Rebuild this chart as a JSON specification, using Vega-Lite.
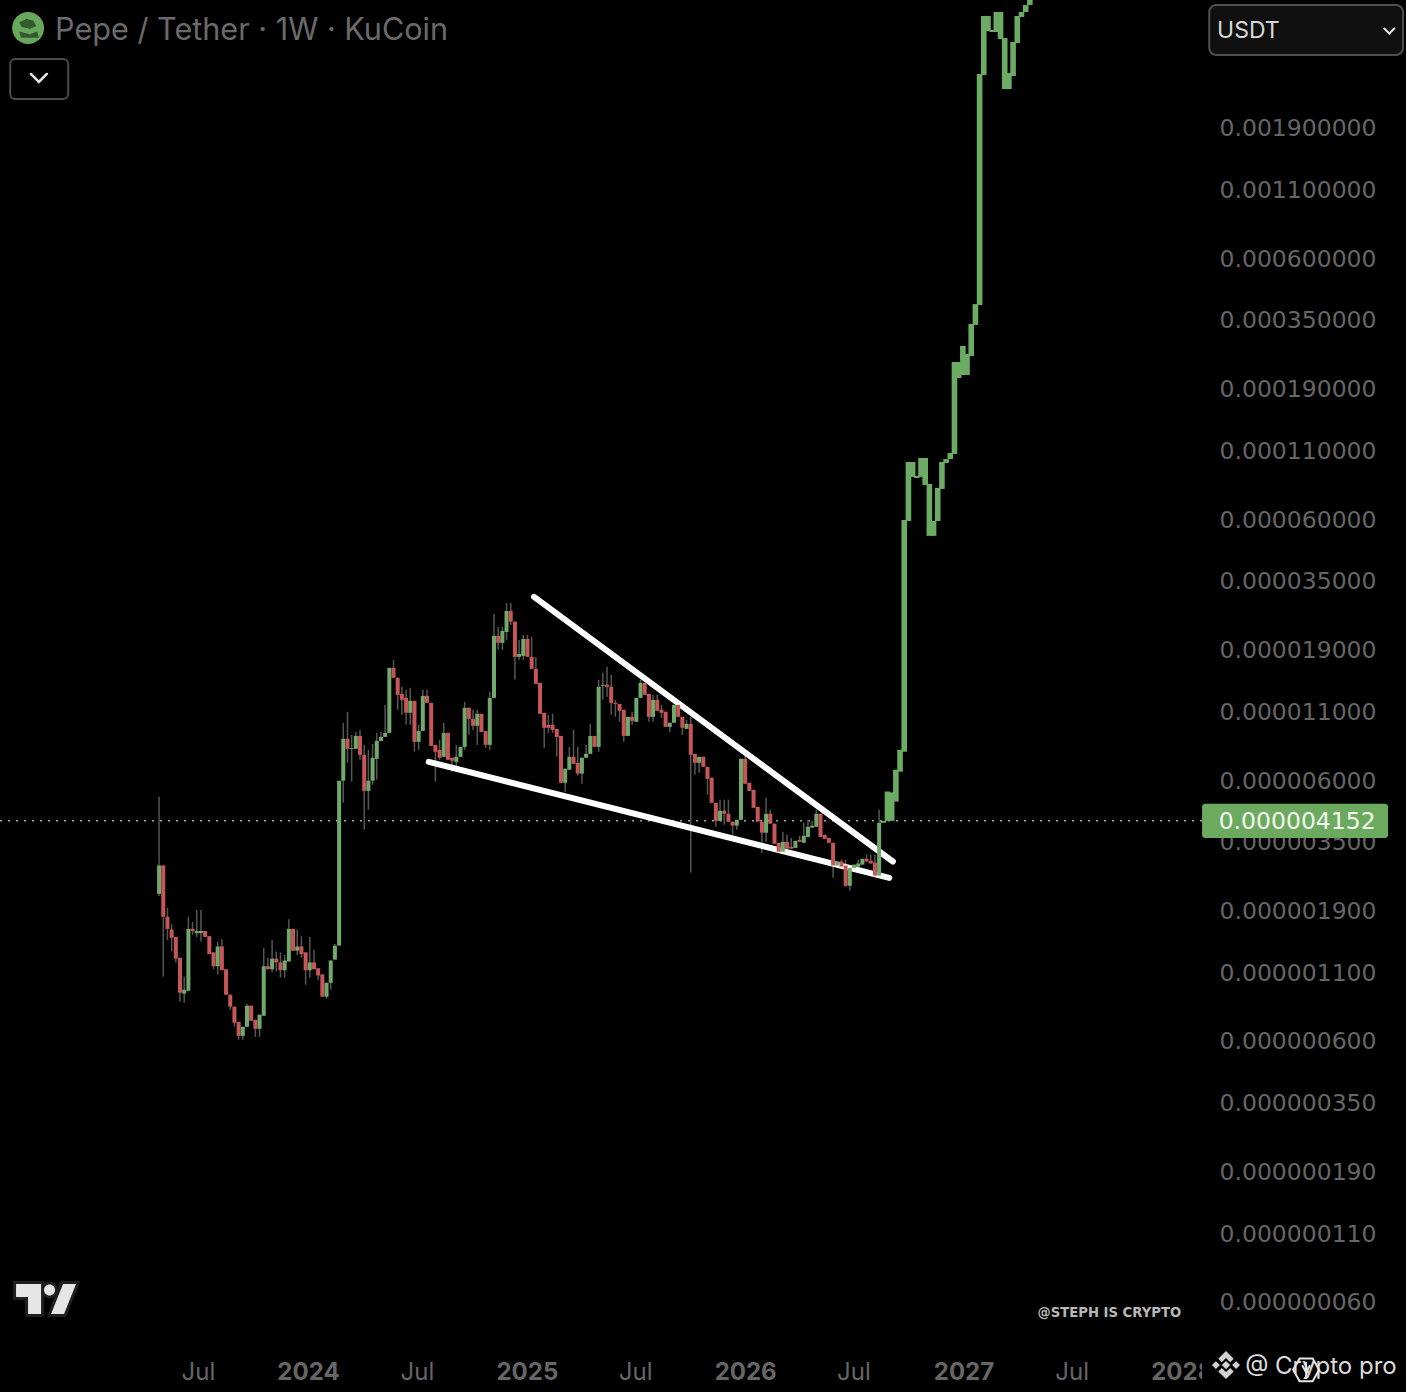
{
  "$schema": "https://vega.github.io/schema/vega-lite/v6.json",
  "width": 1406,
  "height": 1392,
  "padding": 0,
  "autosize": {"type": "none"},
  "background": "#000000",
  "view": {"stroke": null},
  "config": {"font": "Inter"},
  "datasets": {
    "history": [
      {"date":"2023-04-27","open":2.18e-6,"high":5.14e-6,"low":2.14e-6,"price":2.80e-6},
      {"date":"2023-05-04","open":2.80e-6,"high":2.80e-6,"low":1.05e-6,"price":1.78e-6},
      {"date":"2023-05-11","open":1.78e-6,"high":1.93e-6,"low":1.45e-6,"price":1.60e-6},
      {"date":"2023-05-18","open":1.59e-6,"high":1.67e-6,"low":1.31e-6,"price":1.48e-6},
      {"date":"2023-05-25","open":1.49e-6,"high":1.49e-6,"low":1.19e-6,"price":1.23e-6},
      {"date":"2023-06-01","open":1.24e-6,"high":1.24e-6,"low":8.41e-7,"price":9.11e-7},
      {"date":"2023-06-08","open":9.03e-7,"high":1.05e-6,"low":8.34e-7,"price":9.35e-7},
      {"date":"2023-06-15","open":9.27e-7,"high":1.78e-6,"low":9.20e-7,"price":1.60e-6},
      {"date":"2023-06-22","open":1.60e-6,"high":1.70e-6,"low":1.52e-6,"price":1.57e-6},
      {"date":"2023-06-29","open":1.54e-6,"high":1.89e-6,"low":1.49e-6,"price":1.57e-6},
      {"date":"2023-07-06","open":1.54e-6,"high":1.89e-6,"low":1.43e-6,"price":1.57e-6},
      {"date":"2023-07-13","open":1.57e-6,"high":1.57e-6,"low":1.49e-6,"price":1.49e-6},
      {"date":"2023-07-20","open":1.50e-6,"high":1.50e-6,"low":1.28e-6,"price":1.28e-6},
      {"date":"2023-07-27","open":1.30e-6,"high":1.30e-6,"low":1.12e-6,"price":1.15e-6},
      {"date":"2023-08-03","open":1.15e-6,"high":1.43e-6,"low":1.07e-6,"price":1.37e-6},
      {"date":"2023-08-10","open":1.37e-6,"high":1.46e-6,"low":1.11e-6,"price":1.11e-6},
      {"date":"2023-08-17","open":1.12e-6,"high":1.12e-6,"low":8.95e-7,"price":8.95e-7},
      {"date":"2023-08-24","open":8.95e-7,"high":8.95e-7,"low":7.84e-7,"price":8.05e-7},
      {"date":"2023-08-31","open":8.05e-7,"high":8.05e-7,"low":6.74e-7,"price":6.98e-7},
      {"date":"2023-09-07","open":7.04e-7,"high":7.04e-7,"low":6.01e-7,"price":6.22e-7},
      {"date":"2023-09-14","open":6.22e-7,"high":6.74e-7,"low":6.01e-7,"price":6.74e-7},
      {"date":"2023-09-21","open":6.74e-7,"high":8.26e-7,"low":6.74e-7,"price":8.12e-7},
      {"date":"2023-09-28","open":8.12e-7,"high":8.12e-7,"low":7.11e-7,"price":7.11e-7},
      {"date":"2023-10-05","open":7.17e-7,"high":7.17e-7,"low":6.16e-7,"price":6.62e-7},
      {"date":"2023-10-12","open":6.62e-7,"high":7.50e-7,"low":6.16e-7,"price":7.50e-7},
      {"date":"2023-10-19","open":7.43e-7,"high":1.35e-6,"low":7.43e-7,"price":1.15e-6},
      {"date":"2023-10-26","open":1.15e-6,"high":1.24e-6,"low":1.12e-6,"price":1.12e-6},
      {"date":"2023-11-02","open":1.12e-6,"high":1.45e-6,"low":1.09e-6,"price":1.23e-6},
      {"date":"2023-11-09","open":1.23e-6,"high":1.31e-6,"low":1.10e-6,"price":1.19e-6},
      {"date":"2023-11-16","open":1.19e-6,"high":1.30e-6,"low":1.04e-6,"price":1.11e-6},
      {"date":"2023-11-23","open":1.11e-6,"high":1.27e-6,"low":1.04e-6,"price":1.21e-6},
      {"date":"2023-11-30","open":1.20e-6,"high":1.74e-6,"low":1.20e-6,"price":1.60e-6},
      {"date":"2023-12-07","open":1.60e-6,"high":1.60e-6,"low":1.32e-6,"price":1.32e-6},
      {"date":"2023-12-14","open":1.32e-6,"high":1.59e-6,"low":1.27e-6,"price":1.37e-6},
      {"date":"2023-12-21","open":1.37e-6,"high":1.50e-6,"low":1.24e-6,"price":1.28e-6},
      {"date":"2023-12-28","open":1.30e-6,"high":1.30e-6,"low":9.77e-7,"price":1.11e-6},
      {"date":"2024-01-04","open":1.11e-6,"high":1.49e-6,"low":1.04e-6,"price":1.19e-6},
      {"date":"2024-01-11","open":1.19e-6,"high":1.33e-6,"low":1.12e-6,"price":1.12e-6},
      {"date":"2024-01-18","open":1.13e-6,"high":1.13e-6,"low":1.02e-6,"price":1.06e-6},
      {"date":"2024-01-25","open":1.07e-6,"high":1.07e-6,"low":8.79e-7,"price":8.79e-7},
      {"date":"2024-02-01","open":8.79e-7,"high":9.94e-7,"low":8.64e-7,"price":9.94e-7},
      {"date":"2024-02-08","open":9.94e-7,"high":1.21e-6,"low":9.35e-7,"price":1.21e-6},
      {"date":"2024-02-15","open":1.22e-6,"high":1.40e-6,"low":1.22e-6,"price":1.38e-6},
      {"date":"2024-02-22","open":1.38e-6,"high":5.92e-6,"low":1.38e-6,"price":5.92e-6},
      {"date":"2024-02-29","open":5.92e-6,"high":9.87e-6,"low":4.87e-6,"price":8.57e-6},
      {"date":"2024-03-07","open":8.57e-6,"high":1.088e-5,"low":6.93e-6,"price":7.84e-6},
      {"date":"2024-03-14","open":7.84e-6,"high":8.87e-6,"low":5.87e-6,"price":7.90e-6},
      {"date":"2024-03-21","open":7.84e-6,"high":9.10e-6,"low":7.84e-6,"price":8.79e-6},
      {"date":"2024-03-28","open":8.79e-6,"high":9.27e-6,"low":7.12e-6,"price":7.44e-6},
      {"date":"2024-04-04","open":7.44e-6,"high":8.12e-6,"low":3.84e-6,"price":5.41e-6},
      {"date":"2024-04-11","open":5.41e-6,"high":7.77e-6,"low":4.58e-6,"price":5.92e-6},
      {"date":"2024-04-18","open":5.92e-6,"high":8.19e-6,"low":5.71e-6,"price":7.25e-6},
      {"date":"2024-04-25","open":7.18e-6,"high":9.03e-6,"low":5.97e-6,"price":8.41e-6},
      {"date":"2024-05-02","open":8.41e-6,"high":9.10e-6,"low":8.41e-6,"price":8.71e-6},
      {"date":"2024-05-09","open":8.71e-6,"high":1.156e-5,"low":8.71e-6,"price":9.03e-6},
      {"date":"2024-05-16","open":9.03e-6,"high":1.603e-5,"low":9.03e-6,"price":1.603e-5},
      {"date":"2024-05-23","open":1.603e-5,"high":1.720e-5,"low":1.468e-5,"price":1.468e-5},
      {"date":"2024-05-30","open":1.468e-5,"high":1.468e-5,"low":1.107e-5,"price":1.263e-5},
      {"date":"2024-06-06","open":1.274e-5,"high":1.356e-5,"low":1.059e-5,"price":1.209e-5},
      {"date":"2024-06-13","open":1.230e-5,"high":1.320e-5,"low":9.69e-6,"price":1.078e-5},
      {"date":"2024-06-20","open":1.078e-5,"high":1.344e-5,"low":9.69e-6,"price":1.198e-5},
      {"date":"2024-06-27","open":1.198e-5,"high":1.198e-5,"low":7.64e-6,"price":8.34e-6},
      {"date":"2024-07-04","open":8.34e-6,"high":9.69e-6,"low":7.77e-6,"price":9.18e-6},
      {"date":"2024-07-11","open":9.18e-6,"high":1.320e-5,"low":9.18e-6,"price":1.252e-5},
      {"date":"2024-07-18","open":1.252e-5,"high":1.320e-5,"low":1.177e-5,"price":1.177e-5},
      {"date":"2024-07-25","open":1.177e-5,"high":1.177e-5,"low":8.05e-6,"price":8.05e-6},
      {"date":"2024-08-01","open":8.12e-6,"high":8.12e-6,"low":5.87e-6,"price":7.64e-6},
      {"date":"2024-08-08","open":7.77e-6,"high":8.49e-6,"low":7.12e-6,"price":7.25e-6},
      {"date":"2024-08-15","open":7.31e-6,"high":9.87e-6,"low":7.31e-6,"price":9.03e-6},
      {"date":"2024-08-22","open":9.03e-6,"high":9.03e-6,"low":7.12e-6,"price":7.12e-6},
      {"date":"2024-08-29","open":7.25e-6,"high":7.25e-6,"low":6.40e-6,"price":7.06e-6},
      {"date":"2024-09-05","open":6.99e-6,"high":8.12e-6,"low":6.52e-6,"price":7.31e-6},
      {"date":"2024-09-12","open":7.31e-6,"high":7.98e-6,"low":7.31e-6,"price":7.98e-6},
      {"date":"2024-09-19","open":7.98e-6,"high":1.187e-5,"low":7.77e-6,"price":1.127e-5},
      {"date":"2024-09-26","open":1.127e-5,"high":1.127e-5,"low":8.87e-6,"price":1.022e-5},
      {"date":"2024-10-03","open":1.022e-5,"high":1.107e-5,"low":9.27e-6,"price":9.61e-6},
      {"date":"2024-10-10","open":9.61e-6,"high":1.107e-5,"low":8.12e-6,"price":1.069e-5},
      {"date":"2024-10-17","open":1.069e-5,"high":1.069e-5,"low":9.10e-6,"price":9.10e-6},
      {"date":"2024-10-24","open":9.18e-6,"high":9.18e-6,"low":7.91e-6,"price":8.12e-6},
      {"date":"2024-10-31","open":8.12e-6,"high":1.298e-5,"low":7.77e-6,"price":1.230e-5},
      {"date":"2024-11-07","open":1.230e-5,"high":2.58e-5,"low":1.230e-5,"price":2.126e-5},
      {"date":"2024-11-14","open":2.126e-5,"high":2.30e-5,"low":1.879e-5,"price":1.999e-5},
      {"date":"2024-11-21","open":1.999e-5,"high":2.30e-5,"low":1.879e-5,"price":2.22e-5},
      {"date":"2024-11-28","open":2.20e-5,"high":2.84e-5,"low":2.052e-5,"price":2.65e-5},
      {"date":"2024-12-05","open":2.65e-5,"high":2.84e-5,"low":2.343e-5,"price":2.41e-5},
      {"date":"2024-12-12","open":2.41e-5,"high":2.41e-5,"low":1.442e-5,"price":1.766e-5},
      {"date":"2024-12-19","open":1.766e-5,"high":2.052e-5,"low":1.720e-5,"price":1.814e-5},
      {"date":"2024-12-26","open":1.782e-5,"high":2.145e-5,"low":1.720e-5,"price":2.07e-5},
      {"date":"2025-01-02","open":2.07e-5,"high":2.145e-5,"low":1.766e-5,"price":1.766e-5},
      {"date":"2025-01-09","open":1.766e-5,"high":2.107e-5,"low":1.589e-5,"price":1.589e-5},
      {"date":"2025-01-16","open":1.589e-5,"high":1.766e-5,"low":1.392e-5,"price":1.392e-5},
      {"date":"2025-01-23","open":1.404e-5,"high":1.404e-5,"low":1.069e-5,"price":1.069e-5},
      {"date":"2025-01-30","open":1.078e-5,"high":1.078e-5,"low":7.91e-6,"price":9.44e-6},
      {"date":"2025-02-06","open":9.69e-6,"high":1.059e-5,"low":9.03e-6,"price":9.44e-6},
      {"date":"2025-02-13","open":9.69e-6,"high":1.069e-5,"low":9.03e-6,"price":9.27e-6},
      {"date":"2025-02-20","open":9.35e-6,"high":9.35e-6,"low":7.31e-6,"price":8.71e-6},
      {"date":"2025-02-27","open":8.79e-6,"high":8.79e-6,"low":5.81e-6,"price":5.81e-6},
      {"date":"2025-03-06","open":5.81e-6,"high":6.58e-6,"low":5.37e-6,"price":6.58e-6},
      {"date":"2025-03-13","open":6.52e-6,"high":7.98e-6,"low":6.52e-6,"price":7.31e-6},
      {"date":"2025-03-20","open":7.31e-6,"high":9.27e-6,"low":6.87e-6,"price":6.87e-6},
      {"date":"2025-03-27","open":6.93e-6,"high":7.98e-6,"low":6.19e-6,"price":6.30e-6},
      {"date":"2025-04-03","open":6.30e-6,"high":7.25e-6,"low":5.76e-6,"price":7.25e-6},
      {"date":"2025-04-10","open":7.25e-6,"high":8.12e-6,"low":7.25e-6,"price":7.50e-6},
      {"date":"2025-04-17","open":7.50e-6,"high":9.78e-6,"low":7.50e-6,"price":8.79e-6},
      {"date":"2025-04-24","open":8.79e-6,"high":8.79e-6,"low":7.98e-6,"price":7.98e-6},
      {"date":"2025-05-01","open":7.98e-6,"high":1.442e-5,"low":7.64e-6,"price":1.356e-5},
      {"date":"2025-05-08","open":1.368e-5,"high":1.534e-5,"low":1.209e-5,"price":1.380e-5},
      {"date":"2025-05-15","open":1.380e-5,"high":1.617e-5,"low":1.241e-5,"price":1.356e-5},
      {"date":"2025-05-22","open":1.356e-5,"high":1.507e-5,"low":1.059e-5,"price":1.177e-5},
      {"date":"2025-05-29","open":1.177e-5,"high":1.209e-5,"low":1.040e-5,"price":1.166e-5},
      {"date":"2025-06-05","open":1.166e-5,"high":1.166e-5,"low":9.95e-6,"price":1.097e-5},
      {"date":"2025-06-12","open":1.107e-5,"high":1.107e-5,"low":8.34e-6,"price":8.79e-6},
      {"date":"2025-06-19","open":8.79e-6,"high":1.040e-5,"low":8.79e-6,"price":1.040e-5},
      {"date":"2025-06-26","open":1.040e-5,"high":1.088e-5,"low":9.69e-6,"price":1.004e-5},
      {"date":"2025-07-03","open":9.95e-6,"high":1.230e-5,"low":9.95e-6,"price":1.230e-5},
      {"date":"2025-07-10","open":1.230e-5,"high":1.442e-5,"low":1.230e-5,"price":1.404e-5},
      {"date":"2025-07-17","open":1.404e-5,"high":1.404e-5,"low":1.263e-5,"price":1.263e-5},
      {"date":"2025-07-24","open":1.274e-5,"high":1.274e-5,"low":9.95e-6,"price":1.040e-5},
      {"date":"2025-07-31","open":1.040e-5,"high":1.263e-5,"low":9.95e-6,"price":1.209e-5},
      {"date":"2025-08-07","open":1.209e-5,"high":1.263e-5,"low":1.097e-5,"price":1.097e-5},
      {"date":"2025-08-14","open":1.107e-5,"high":1.156e-5,"low":1.031e-5,"price":1.078e-5},
      {"date":"2025-08-21","open":1.088e-5,"high":1.088e-5,"low":9.52e-6,"price":9.52e-6},
      {"date":"2025-08-28","open":9.52e-6,"high":9.87e-6,"low":9.10e-6,"price":9.87e-6},
      {"date":"2025-09-04","open":9.87e-6,"high":1.156e-5,"low":9.87e-6,"price":1.156e-5},
      {"date":"2025-09-11","open":1.156e-5,"high":1.156e-5,"low":1.040e-5,"price":1.040e-5},
      {"date":"2025-09-18","open":1.040e-5,"high":1.040e-5,"low":8.87e-6,"price":9.44e-6},
      {"date":"2025-09-25","open":9.35e-6,"high":1.013e-5,"low":9.35e-6,"price":9.78e-6},
      {"date":"2025-10-02","open":9.78e-6,"high":1.040e-5,"low":2.63e-6,"price":7.44e-6},
      {"date":"2025-10-09","open":7.50e-6,"high":7.50e-6,"low":6.24e-6,"price":6.93e-6},
      {"date":"2025-10-16","open":6.93e-6,"high":7.31e-6,"low":6.35e-6,"price":7.31e-6},
      {"date":"2025-10-23","open":7.31e-6,"high":7.31e-6,"low":6.69e-6,"price":6.69e-6},
      {"date":"2025-10-30","open":6.69e-6,"high":6.69e-6,"low":5.23e-6,"price":6.02e-6},
      {"date":"2025-11-06","open":6.08e-6,"high":6.08e-6,"low":4.87e-6,"price":4.87e-6},
      {"date":"2025-11-13","open":4.87e-6,"high":4.87e-6,"low":3.94e-6,"price":4.15e-6},
      {"date":"2025-11-20","open":4.15e-6,"high":5.00e-6,"low":4.15e-6,"price":4.54e-6},
      {"date":"2025-11-27","open":4.54e-6,"high":5.00e-6,"low":4.01e-6,"price":4.42e-6},
      {"date":"2025-12-04","open":4.42e-6,"high":5.00e-6,"low":4.12e-6,"price":4.12e-6},
      {"date":"2025-12-11","open":4.12e-6,"high":4.12e-6,"low":3.67e-6,"price":3.98e-6},
      {"date":"2025-12-18","open":3.98e-6,"high":4.19e-6,"low":3.84e-6,"price":4.19e-6},
      {"date":"2025-12-25","open":4.19e-6,"high":7.18e-6,"low":4.19e-6,"price":7.18e-6},
      {"date":"2026-01-01","open":7.18e-6,"high":7.44e-6,"low":5.76e-6,"price":5.76e-6},
      {"date":"2026-01-08","open":5.81e-6,"high":5.81e-6,"low":5.41e-6,"price":5.41e-6},
      {"date":"2026-01-15","open":5.46e-6,"high":5.46e-6,"low":4.66e-6,"price":4.66e-6},
      {"date":"2026-01-22","open":4.70e-6,"high":4.70e-6,"low":4.12e-6,"price":4.12e-6},
      {"date":"2026-01-29","open":4.12e-6,"high":4.12e-6,"low":3.13e-6,"price":3.74e-6},
      {"date":"2026-02-05","open":3.74e-6,"high":5.09e-6,"low":3.45e-6,"price":4.42e-6},
      {"date":"2026-02-12","open":4.42e-6,"high":4.58e-6,"low":4.05e-6,"price":4.05e-6},
      {"date":"2026-02-19","open":4.05e-6,"high":4.05e-6,"low":3.39e-6,"price":3.39e-6},
      {"date":"2026-02-26","open":3.42e-6,"high":3.42e-6,"low":3.16e-6,"price":3.16e-6},
      {"date":"2026-03-05","open":3.16e-6,"high":3.77e-6,"low":3.16e-6,"price":3.45e-6},
      {"date":"2026-03-12","open":3.45e-6,"high":3.67e-6,"low":3.25e-6,"price":3.25e-6},
      {"date":"2026-03-19","open":3.30e-6,"high":3.57e-6,"low":3.25e-6,"price":3.25e-6},
      {"date":"2026-03-26","open":3.27e-6,"high":3.48e-6,"low":3.27e-6,"price":3.48e-6},
      {"date":"2026-04-02","open":3.51e-6,"high":3.64e-6,"low":3.45e-6,"price":3.45e-6},
      {"date":"2026-04-09","open":3.42e-6,"high":4.08e-6,"low":3.42e-6,"price":3.64e-6},
      {"date":"2026-04-16","open":3.60e-6,"high":4.19e-6,"low":3.60e-6,"price":3.94e-6},
      {"date":"2026-04-23","open":3.91e-6,"high":4.15e-6,"low":3.91e-6,"price":3.98e-6},
      {"date":"2026-04-30","open":3.94e-6,"high":4.58e-6,"low":3.94e-6,"price":4.42e-6},
      {"date":"2026-05-07","open":4.42e-6,"high":4.42e-6,"low":3.60e-6,"price":3.60e-6},
      {"date":"2026-05-14","open":3.67e-6,"high":3.67e-6,"low":3.54e-6,"price":3.54e-6},
      {"date":"2026-05-21","open":3.57e-6,"high":3.57e-6,"low":3.42e-6,"price":3.42e-6},
      {"date":"2026-05-28","open":3.42e-6,"high":3.42e-6,"low":2.51e-6,"price":2.80e-6},
      {"date":"2026-06-04","open":2.80e-6,"high":2.90e-6,"low":2.80e-6,"price":2.90e-6},
      {"date":"2026-06-11","open":2.90e-6,"high":2.95e-6,"low":2.77e-6,"price":2.77e-6},
      {"date":"2026-06-18","open":2.80e-6,"high":2.95e-6,"low":2.32e-6,"price":2.34e-6},
      {"date":"2026-06-25","open":2.34e-6,"high":2.74e-6,"low":2.24e-6,"price":2.74e-6},
      {"date":"2026-07-02","open":2.74e-6,"high":2.82e-6,"low":2.74e-6,"price":2.82e-6},
      {"date":"2026-07-09","open":2.77e-6,"high":2.95e-6,"low":2.77e-6,"price":2.85e-6},
      {"date":"2026-07-16","open":2.82e-6,"high":2.97e-6,"low":2.82e-6,"price":2.97e-6},
      {"date":"2026-07-23","open":2.97e-6,"high":3.08e-6,"low":2.90e-6,"price":2.90e-6},
      {"date":"2026-07-30","open":2.92e-6,"high":3.08e-6,"low":2.85e-6,"price":2.85e-6},
      {"date":"2026-08-06","open":2.87e-6,"high":3.08e-6,"low":2.56e-6,"price":2.56e-6},
      {"date":"2026-08-13","open":2.56e-6,"high":4.58e-6,"low":2.51e-6,"price":4.08e-6}
    ],
    "projection": [
      {"date":"2026-08-20","open":4.08e-6,"price":4.15e-6},
      {"date":"2026-08-27","open":4.15e-6,"price":5.38e-6},
      {"date":"2026-09-03","open":4.15e-6,"price":5.34e-6},
      {"date":"2026-09-10","open":4.92e-6,"price":6.52e-6},
      {"date":"2026-09-17","open":6.41e-6,"price":7.77e-6},
      {"date":"2026-09-24","open":7.64e-6,"price":5.91e-5},
      {"date":"2026-10-01","open":5.86e-5,"price":9.87e-5},
      {"date":"2026-10-08","open":8.65e-5,"price":9.87e-5},
      {"date":"2026-10-15","open":8.57e-5,"price":8.72e-5},
      {"date":"2026-10-22","open":8.65e-5,"price":1.022e-4},
      {"date":"2026-10-29","open":8.06e-5,"price":1.022e-4},
      {"date":"2026-11-05","open":5.14e-5,"price":8.13e-5},
      {"date":"2026-11-12","open":5.14e-5,"price":5.86e-5},
      {"date":"2026-11-19","open":5.86e-5,"price":7.85e-5},
      {"date":"2026-11-26","open":7.78e-5,"price":9.87e-5},
      {"date":"2026-12-03","open":9.78e-5,"price":1.013e-4},
      {"date":"2026-12-10","open":1.013e-4,"price":1.069e-4},
      {"date":"2026-12-17","open":1.059e-4,"price":2.386e-4},
      {"date":"2026-12-24","open":2.072e-4,"price":2.386e-4},
      {"date":"2026-12-31","open":2.127e-4,"price":2.749e-4},
      {"date":"2027-01-07","open":2.127e-4,"price":2.561e-4},
      {"date":"2027-01-14","open":2.516e-4,"price":3.337e-4},
      {"date":"2027-01-21","open":3.308e-4,"price":3.98e-4},
      {"date":"2027-01-28","open":3.948e-4,"price":3.035e-3},
      {"date":"2027-02-04","open":3.008e-3,"price":5.064e-3},
      {"date":"2027-02-11","open":4.435e-3,"price":5.064e-3},
      {"date":"2027-02-18","open":4.396e-3,"price":4.474e-3},
      {"date":"2027-02-25","open":4.396e-3,"price":5.245e-3},
      {"date":"2027-03-04","open":4.132e-3,"price":5.245e-3},
      {"date":"2027-03-11","open":2.657e-3,"price":4.168e-3},
      {"date":"2027-03-18","open":2.657e-3,"price":3.06e-3},
      {"date":"2027-03-25","open":2.98e-3,"price":4.025e-3},
      {"date":"2027-04-01","open":3.989e-3,"price":5.064e-3},
      {"date":"2027-04-08","open":5.02e-3,"price":5.245e-3},
      {"date":"2027-04-15","open":5.245e-3,"price":5.58e-3},
      {"date":"2027-04-22","open":5.58e-3,"price":6.09e-3}
    ],
    "trendlines": [
      {"line":"upper","date":"2025-01-13","price":3.00e-5},
      {"line":"upper","date":"2026-09-05","price":2.90e-6},
      {"line":"lower","date":"2024-07-21","price":6.99e-6},
      {"line":"lower","date":"2026-08-30","price":2.51e-6}
    ]
  },
  "encoding": {
    "x": {
      "field": "date",
      "type": "temporal",
      "scale": {
        "type": "utc",
        "padding": 0,
        "domain": [
          {"year": 2022, "month": 8, "date": 4, "utc": true},
          {"year": 2029, "month": 1, "date": 10, "utc": true}
        ]
      },
      "axis": {
        "title": null,
        "orient": "bottom",
        "domain": false,
        "ticks": false,
        "grid": false,
        "labelPadding": -20,
        "labelBaseline": "middle",
        "labelFontSize": 24,
        "labelFont": "Inter",
        "labelColor": "#666666",
        "labelBound": false,
        "labelFlush": false,
        "labelOverlap": false,
        "labelFontWeight": {"condition": {"test": "utcmonth(datum.value)==0", "value": "bold"}, "value": "normal"},
        "labelExpr": "utcmonth(datum.value)==6 ? 'Jul' : '' + utcyear(datum.value)",
        "values": [
          {"year": 2023, "month": 7, "date": 1, "utc": true},
          {"year": 2024, "month": 1, "date": 1, "utc": true},
          {"year": 2024, "month": 7, "date": 1, "utc": true},
          {"year": 2025, "month": 1, "date": 1, "utc": true},
          {"year": 2025, "month": 7, "date": 1, "utc": true},
          {"year": 2026, "month": 1, "date": 1, "utc": true},
          {"year": 2026, "month": 7, "date": 1, "utc": true},
          {"year": 2027, "month": 1, "date": 1, "utc": true},
          {"year": 2027, "month": 7, "date": 1, "utc": true},
          {"year": 2028, "month": 1, "date": 1, "utc": true}
        ]
      }
    },
    "y": {
      "field": "price",
      "type": "quantitative",
      "scale": {"type": "log", "domain": [2.681e-8, 5.83e-3], "nice": false, "zero": false},
      "axis": {
        "title": null,
        "orient": "right",
        "domain": false,
        "ticks": false,
        "grid": false,
        "format": ".9f",
        "labelPadding": -30,
        "labelAlign": "right",
        "labelOffset": 2,
        "labelFontSize": 23.5,
        "labelFont": "DejaVu Sans",
        "labelColor": "#666666",
        "labelBound": false,
        "labelFlush": false,
        "labelOverlap": false,
        "values": [0.0019, 0.0011, 0.0006, 0.00035, 0.00019, 0.00011, 0.00006, 0.000035, 0.000019, 0.000011, 0.000006, 0.0000035, 0.0000019, 0.0000011, 0.0000006, 0.00000035, 0.00000019, 0.00000011, 0.00000006]
      }
    }
  },
  "layer": [
    {
      "data": {"values": [{"date": "2022-08-04", "date2": "2028-02-04", "price": 4.152e-6}], "format": {"parse": {"date": "date", "date2": "date"}}},
      "mark": {"type": "rule", "color": "#a0a59c", "strokeWidth": 1.5, "strokeDash": [2, 6]},
      "encoding": {"x2": {"field": "date2"}}
    },
    {
      "data": {"name": "history"},
      "mark": {"type": "rule", "color": "#565656", "strokeWidth": 1.5},
      "encoding": {"y2": {"field": "high"}}
    },
    {
      "data": {"name": "history"},
      "mark": {"type": "rule", "color": "#565656", "strokeWidth": 1.5},
      "encoding": {"y2": {"field": "low"}}
    },
    {
      "data": {"name": "trendlines"},
      "mark": {"type": "line", "color": "#ffffff", "strokeWidth": 6, "strokeCap": "round"},
      "encoding": {"detail": {"field": "line"}}
    },
    {
      "data": {"name": "history"},
      "mark": {"type": "bar", "orient": "vertical", "width": 4},
      "encoding": {
        "y2": {"field": "open"},
        "color": {"condition": {"test": "datum.price >= datum.open", "value": "#70a96b"}, "value": "#c65658"}
      }
    },
    {
      "data": {"name": "projection"},
      "mark": {"type": "bar", "orient": "vertical", "width": 5.6, "color": "#6cab63"},
      "encoding": {"y2": {"field": "open"}}
    },
    {
      "data": {"values": [{"date": "2028-02-04", "date2": "2028-12-11", "price": 4.83e-6, "price2": 3.57e-6}], "format": {"parse": {"date": "date", "date2": "date"}}},
      "mark": {"type": "rect", "color": "#6cab5f", "cornerRadius": 3},
      "encoding": {"x2": {"field": "date2"}, "y2": {"field": "price2"}}
    },
    {
      "data": {"values": [{"date": "2028-07-12", "price": 4.152e-6, "label": "0.000004152"}]},
      "mark": {"type": "text", "color": "#f2f7ef", "fontSize": 23.5, "align": "center", "baseline": "middle", "dy": 1, "font": "DejaVu Sans"},
      "encoding": {"text": {"field": "label"}}
    },
    {
      "data": {"values": [{"date": "2028-02-04", "date2": "2029-01-10", "price": 3.89e-8, "price2": 2.681e-8}], "format": {"parse": {"date": "date", "date2": "date"}}},
      "mark": {"type": "rect", "color": "#000000"},
      "encoding": {"x2": {"field": "date2"}, "y2": {"field": "price2"}}
    },
    {
      "data": {"values": [{"date": "2022-09-20", "price": 4.555e-3}]},
      "mark": {"type": "point", "shape": "circle", "filled": true, "fill": "#67a85c", "size": 1018, "opacity": 1, "stroke": null},
      "encoding": {}
    },
    {
      "data": {"values": [{"date": "2022-09-20", "price": 4.555e-3}]},
      "mark": {"type": "point", "shape": "M-.5,-.3L-.1,-.5L.3,-.4L.45,-.1L.1,.05L-.35,-.05ZM-.5,.2L.1,.35L.5,.2L.6,.55L-.4,.55Z", "filled": true, "fill": "#34582f", "size": 1296, "opacity": 1, "stroke": null},
      "encoding": {}
    },
    {
      "data": {"values": [{"date": "2022-11-04", "price": 4.515e-3, "label": "Pepe / Tether · 1W · KuCoin"}]},
      "mark": {"type": "text", "color": "#6a6a6a", "fontSize": 30.6, "align": "left", "baseline": "middle", "dy": 2, "font": "Inter"},
      "encoding": {"text": {"field": "label"}}
    },
    {
      "data": {"values": [{"date": "2022-08-21", "date2": "2022-11-26", "price": 3.463e-3, "price2": 2.433e-3}], "format": {"parse": {"date": "date", "date2": "date"}}},
      "mark": {"type": "rect", "fill": "#000000", "stroke": "#4a4a4a", "strokeWidth": 2, "cornerRadius": 5},
      "encoding": {"x2": {"field": "date2"}, "y2": {"field": "price2"}}
    },
    {
      "data": {"values": [{"date": "2022-10-08", "price": 2.929e-3}]},
      "mark": {"type": "point", "shape": "M-1,-.5L0,.5L1,-.5", "filled": false, "stroke": "#e6e6e6", "strokeWidth": 2.5, "strokeCap": "round", "size": 256, "opacity": 1},
      "encoding": {}
    },
    {
      "data": {"values": [{"date": "2028-02-16", "date2": "2029-01-05", "price": 5.58e-3, "price2": 3.588e-3}], "format": {"parse": {"date": "date", "date2": "date"}}},
      "mark": {"type": "rect", "fill": "#101010", "stroke": "#4f4f4f", "strokeWidth": 2, "cornerRadius": 7},
      "encoding": {"x2": {"field": "date2"}, "y2": {"field": "price2"}}
    },
    {
      "data": {"values": [{"date": "2028-02-29", "price": 4.474e-3, "label": "USDT"}]},
      "mark": {"type": "text", "color": "#d8d8d8", "fontSize": 23, "align": "left", "baseline": "middle", "dy": 1, "font": "Inter"},
      "encoding": {"text": {"field": "label"}}
    },
    {
      "data": {"values": [{"date": "2028-12-13", "price": 4.435e-3}]},
      "mark": {"type": "point", "shape": "M-1,-.5L0,.5L1,-.5", "filled": false, "stroke": "#e6e6e6", "strokeWidth": 2, "strokeCap": "round", "size": 100, "opacity": 1},
      "encoding": {}
    },
    {
      "data": {"values": [{"date": "2022-10-20", "price": 6.09e-8}]},
      "mark": {"type": "point", "shape": "M-.75,-.375L-.125,-.375L-.125,.375L-.45,.375L-.45,-.05L-.75,-.05ZM.425,-.375L.75,-.375L.45,.375L.125,.375ZM-.05,-.225a.1375,.1375 0 1,0 .275,0a.1375,.1375 0 1,0 -.275,0Z", "filled": true, "fill": "#1f1f1f", "stroke": "#1f1f1f", "strokeWidth": 6, "size": 6400, "opacity": 1},
      "encoding": {}
    },
    {
      "data": {"values": [{"date": "2022-10-20", "price": 6.09e-8}]},
      "mark": {"type": "point", "shape": "M-.75,-.375L-.125,-.375L-.125,.375L-.45,.375L-.45,-.05L-.75,-.05ZM.425,-.375L.75,-.375L.45,.375L.125,.375ZM-.05,-.225a.1375,.1375 0 1,0 .275,0a.1375,.1375 0 1,0 -.275,0Z", "filled": true, "fill": "#e6e6e6", "stroke": null, "size": 6400, "opacity": 1},
      "encoding": {}
    },
    {
      "data": {"values": [{"date": "2027-09-02", "price": 5.38e-8, "label": "@STEPH IS CRYPTO"}]},
      "mark": {"type": "text", "color": "#b8b8b8", "fontSize": 13.2, "fontWeight": "bold", "align": "center", "baseline": "middle", "font": "DejaVu Sans"},
      "encoding": {"text": {"field": "label"}}
    },
    {
      "data": {"values": [{"date": "2028-03-15", "price": 3.40e-8}]},
      "mark": {"type": "point", "shape": "M0,-.3L.3,0L0,.3L-.3,0ZM-.72,-.28L-.44,0L-.72,.28L-1,0ZM.72,-.28L1,0L.72,.28L.44,0ZM0,-1L.55,-.45L.3,-.2L0,-.5L-.3,-.2L-.55,-.45ZM0,1L-.55,.45L-.3,.2L0,.5L.3,.2L.55,.45Z", "filled": true, "fill": "#d2d2d2", "stroke": null, "size": 784, "opacity": 1},
      "encoding": {}
    },
    {
      "data": {"values": [{"date": "2028-04-16", "price": 3.37e-8, "label": "@ Crypto  pro"}]},
      "mark": {"type": "text", "color": "#dcdcdc", "fontSize": 24, "align": "left", "baseline": "middle", "dy": 1, "font": "Inter"},
      "encoding": {"text": {"field": "label"}}
    },
    {
      "data": {"values": [{"date": "2028-07-27", "price": 3.26e-8}]},
      "mark": {"type": "point", "shape": "M-1,0L-.5,-.87L.5,-.87L1,0L.5,.87L-.5,.87ZM-.3,-.35L0,.2L.3,-.35M0,-.6L0,.7", "filled": false, "stroke": "#e6e6e6", "strokeWidth": 2, "size": 676, "opacity": 1},
      "encoding": {}
    }
  ]
}
